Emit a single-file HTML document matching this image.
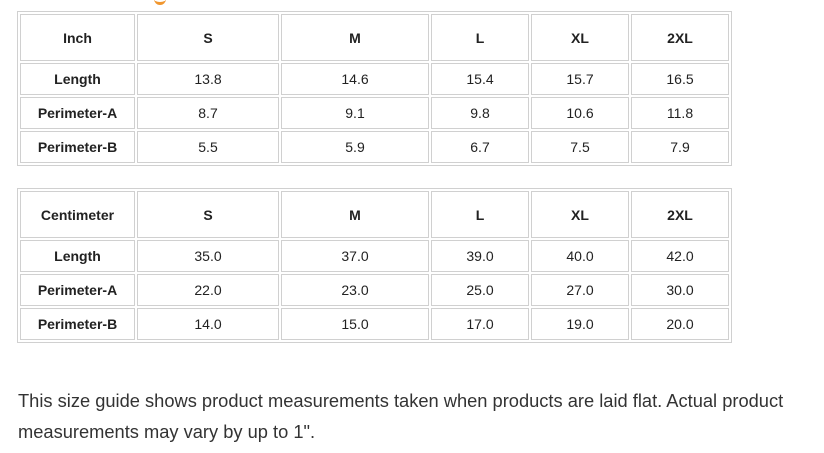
<!DOCTYPE html>
<html><head><meta charset="utf-8"><style>
body{margin:0;width:824px;height:453px;background:#fff;position:relative;overflow:hidden;font-family:"Liberation Sans",Arial,sans-serif;}
.o{position:absolute;border:1px solid #d0d0d0;box-sizing:border-box;}
.c{position:absolute;border:1px solid #d0d0d0;box-sizing:border-box;display:flex;align-items:center;justify-content:center;font-size:14px;color:#222;}
.b{font-weight:bold;}
p{position:absolute;left:18px;top:385px;margin:0;width:790px;font-size:18.3px;line-height:31px;color:#333;}
.g{position:absolute;left:154px;top:-8px;width:12px;height:10px;border-bottom:3px solid #f0962e;border-radius:0 0 6px 6px;}
</style></head><body>
<div class="g"></div>
<div id="t"></div>
<p>This size guide shows product measurements taken when products are laid flat. Actual product measurements may vary by up to 1".</p>
<script>
var cols=[[20,115],[137,142],[281,148],[431,98],[531,98],[631,98]];
var rowsH=[[0,47],[49,32],[83,32],[117,32]];
var tables=[
{y:11,data:[["Inch","S","M","L","XL","2XL"],["Length","13.8","14.6","15.4","15.7","16.5"],["Perimeter-A","8.7","9.1","9.8","10.6","11.8"],["Perimeter-B","5.5","5.9","6.7","7.5","7.9"]]},
{y:188,data:[["Centimeter","S","M","L","XL","2XL"],["Length","35.0","37.0","39.0","40.0","42.0"],["Perimeter-A","22.0","23.0","25.0","27.0","30.0"],["Perimeter-B","14.0","15.0","17.0","19.0","20.0"]]}];
var h="";
tables.forEach(function(t){
h+='<div class="o" style="left:17px;top:'+t.y+'px;width:715px;height:155px"></div>';
t.data.forEach(function(r,ri){r.forEach(function(v,ci){
var b=(ri==0||ci==0)?' b':'';
h+='<div class="c'+b+'" style="left:'+cols[ci][0]+'px;top:'+(t.y+3+rowsH[ri][0])+'px;width:'+cols[ci][1]+'px;height:'+rowsH[ri][1]+'px">'+v+'</div>';
});});
});
document.getElementById("t").innerHTML=h;
</script>
</body></html>
